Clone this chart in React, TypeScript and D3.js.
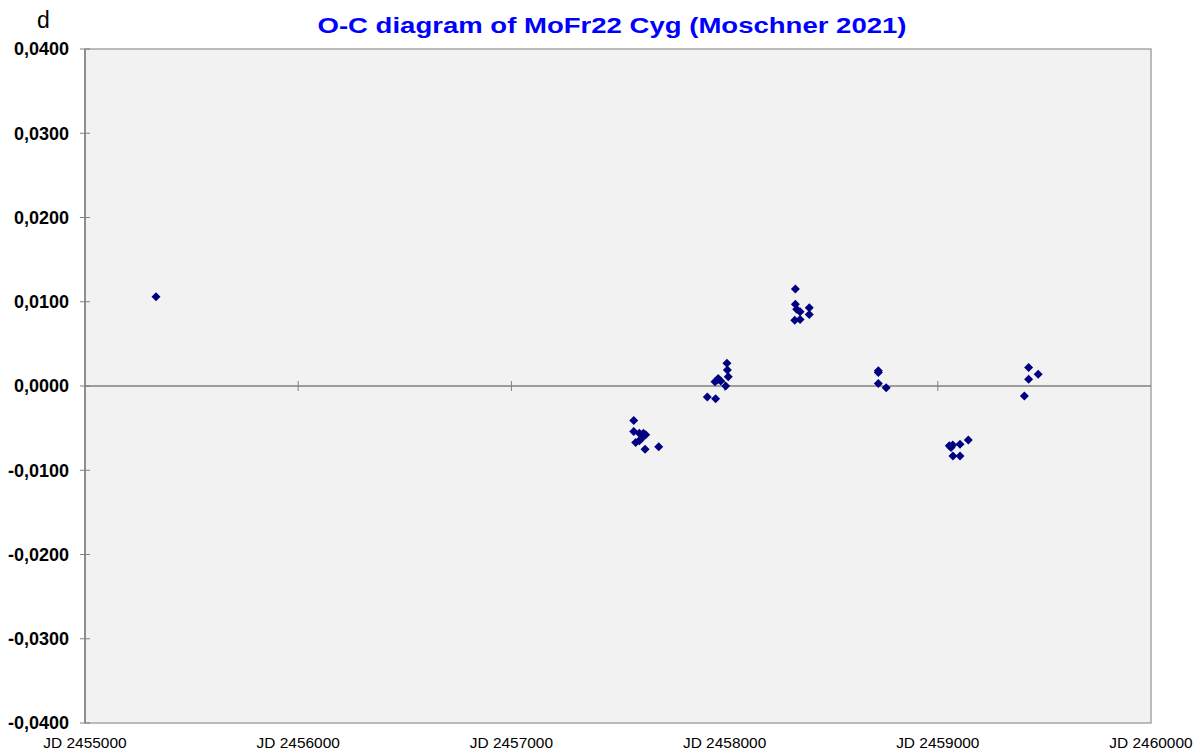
import React from "react";
import * as d3 from "d3";

const jdValues = [
  2455333,
  2457574, 2457574, 2457600, 2457619, 2457630, 2457611, 2457583, 2457600, 2457627, 2457691,
  2457919, 2457958, 2457955, 2457970, 2457966, 2457982, 2458005, 2458017, 2458013, 2458011,
  2458332, 2458332, 2458338, 2458354, 2458329, 2458354, 2458397, 2458397,
  2458721, 2458721, 2458721, 2458758,
  2459054, 2459070, 2459062, 2459104, 2459143, 2459071, 2459104,
  2459426, 2459471, 2459426, 2459406,
];
const ocValues = [
  0.0106,
  -0.0041, -0.0054, -0.0056, -0.0056, -0.0058, -0.0062, -0.0067, -0.0065, -0.0075, -0.0072,
  -0.0013, -0.0015, 0.0005, 0.0009, 0.0007, 0.0006, 0.0000, 0.0011, 0.0019, 0.0027,
  0.0115, 0.0097, 0.0091, 0.0088, 0.0078, 0.0079, 0.0093, 0.0085,
  0.0018, 0.0016, 0.0003, -0.0002,
  -0.0071, -0.0070, -0.0073, -0.0069, -0.0064, -0.0083, -0.0083,
  0.0022, 0.0014, 0.0008, -0.0012,
];
const xTicks = [2455000, 2456000, 2457000, 2458000, 2459000, 2460000];
const yTicks = [0.04, 0.03, 0.02, 0.01, 0, -0.01, -0.02, -0.03, -0.04];
const title = "O-C diagram of MoFr22 Cyg (Moschner 2021)";

const W = 1198;
const H = 751;
const left = 85;
const right = 1151;
const top = 49;
const bottom = 723;

export default function App() {
  const x = d3.scaleLinear().domain([2455000, 2460000]).range([left, right]);
  const y = d3.scaleLinear().domain([-0.04, 0.04]).range([bottom, top]);
  const fmtY = (v: number) => {
    const s = d3.format(".4f")(Math.abs(v)).replace(".", ",");
    return (v < 0 ? "-" : "") + s;
  };
  const r = 4.5;
  const diamond = `M0,${-r}L${r},0L0,${r}L${-r},0Z`;
  return (
    <svg
      width={W}
      height={H}
      style={{ position: "absolute", left: 0, top: 0, background: "#fff" }}
      fontFamily="Arial, 'Liberation Sans', sans-serif"
    >
      <rect x={left} y={top} width={right - left} height={bottom - top} fill="#f2f2f2" stroke="#a6a6a6" strokeWidth={1.5} />
      <line x1={left} x2={left} y1={top} y2={bottom} stroke="#808080" strokeWidth={1.5} />
      {yTicks.map((t) => (
        <g key={t}>
          <line x1={left - 5} x2={left + 5} y1={y(t)} y2={y(t)} stroke="#808080" />
          <text x={69} y={y(t)} dy="0.36em" textAnchor="end" fontWeight="bold" fontSize={18}>
            {fmtY(t)}
          </text>
        </g>
      ))}
      <line x1={left} x2={right} y1={y(0)} y2={y(0)} stroke="#808080" strokeWidth={1.5} />
      {xTicks.slice(1, -1).map((t) => (
        <line key={t} x1={x(t)} x2={x(t)} y1={y(0) - 5} y2={y(0) + 5} stroke="#808080" />
      ))}
      {xTicks.map((t) => (
        <text key={t} x={x(t)} y={748} textAnchor="middle" fontSize={15} transform={`translate(${x(t)},0) scale(1.03,1) translate(${-x(t)},0)`}>
          {"JD " + t}
        </text>
      ))}
      {jdValues.map((jd, i) => (
        <path key={i} d={diamond} transform={`translate(${x(jd)},${y(ocValues[i])})`} fill="#000080" />
      ))}
      <text x={612} y={33} textAnchor="middle" fontWeight="bold" fontSize={22} fill="#0000ff" textLength={589} lengthAdjust="spacingAndGlyphs">
        {title}
      </text>
      <text x={37} y={28} fontSize={23}>d</text>
    </svg>
  );
}
